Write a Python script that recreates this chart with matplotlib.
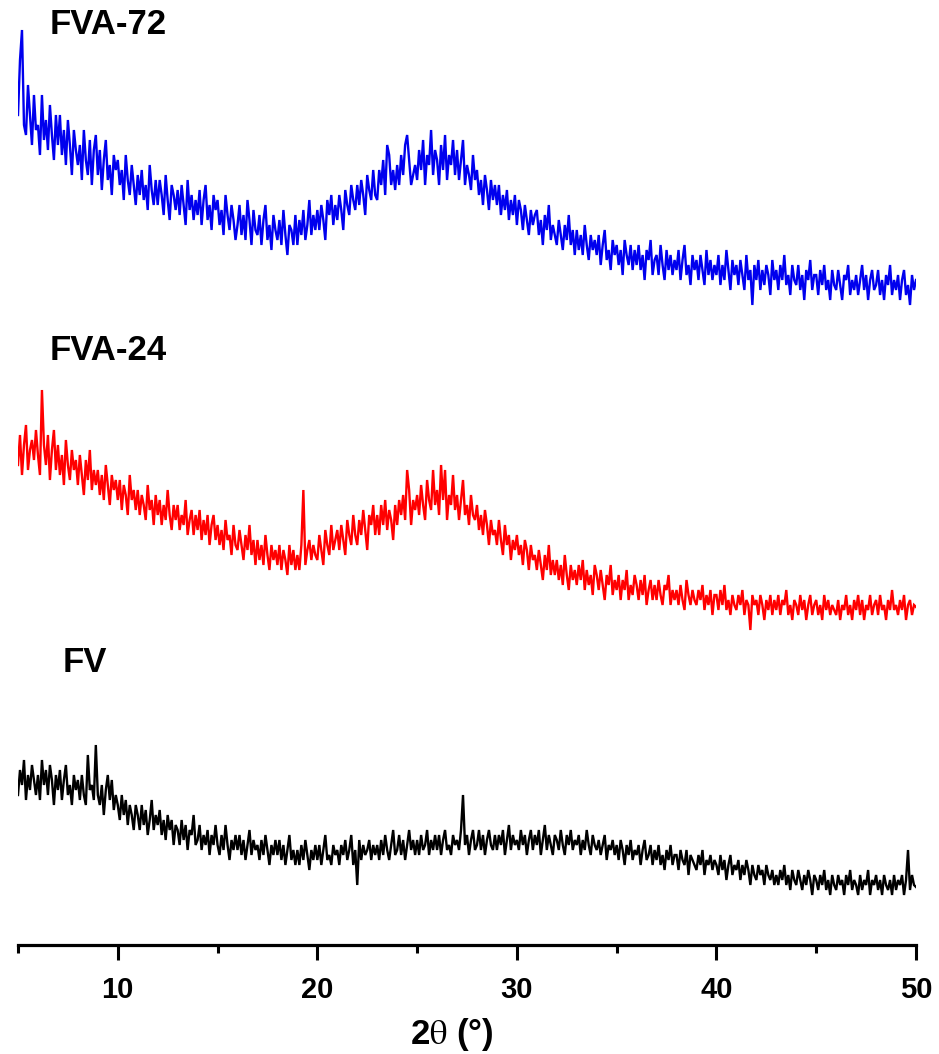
import matplotlib
matplotlib.use('Agg')
import numpy as np
import matplotlib.pyplot as plt

plt.rcParams['font.family'] = ['Liberation Sans', 'DejaVu Sans']
plt.rcParams['mathtext.fontset'] = 'stix'

# 2-theta scan, 5-50 deg in 0.1 deg steps
two_theta = np.round(np.arange(5.0, 50.05, 0.1), 1)

# stacked intensities (a.u.), one row per degree
fva72 = [
    830, 885, 915, 820, 810, 860, 830, 800, 850, 815,
    820, 790, 850, 805, 825, 795, 840, 810, 785, 830,
    800, 830, 790, 815, 780, 825, 800, 770, 815, 795,
    780, 800, 765, 815, 785, 770, 805, 760, 795, 810,
    770, 795, 755, 785, 805, 765, 780, 750, 790, 775,
    785, 760, 775, 745, 790, 765, 750, 780, 760, 740,
    770, 750, 775, 745, 760, 735, 780, 755, 740, 765,
    740, 765, 750, 730, 770, 745, 725, 760, 750, 735,
    755, 730, 760, 740, 720, 765, 735, 750, 725, 745,
    730, 755, 720, 745, 760, 725, 740, 715, 750, 735,
    745, 720, 735, 710, 750, 730, 715, 740, 725, 705,
    720, 740, 710, 730, 705, 745, 725, 700, 735, 715,
    710, 730, 700, 725, 740, 705, 720, 695, 730, 715,
    705, 725, 700, 735, 710, 690, 720, 715, 700, 730,
    700, 725, 710, 735, 705, 720, 745, 710, 730, 715,
    735, 715, 740, 725, 705, 745, 730, 750, 720, 740,
    725, 750, 735, 715, 755, 740, 730, 760, 745, 735,
    760, 740, 765, 750, 730, 770, 755, 745, 775, 750,
    745, 775, 760, 785, 750, 800, 790, 760, 775, 755,
    780, 760, 790, 770, 800, 810, 785, 760, 770, 780,
    765, 795, 775, 805, 760, 790, 780, 815, 770, 795,
    785, 760, 800, 775, 810, 765, 790, 780, 805, 770,
    795, 765, 785, 805, 760, 780, 770, 755, 790, 765,
    775, 750, 765, 740, 770, 755, 735, 765, 745, 760,
    740, 760, 730, 750, 735, 755, 725, 745, 730, 750,
    720, 745, 735, 715, 740, 725, 710, 735, 720, 730,
    735, 710, 725, 700, 730, 715, 740, 705, 720, 710,
    700, 725, 710, 695, 720, 705, 730, 700, 715, 690,
    715, 695, 710, 690, 720, 700, 685, 710, 695, 705,
    690, 710, 680, 700, 715, 685, 695, 675, 705, 690,
    700, 680, 695, 670, 705, 690, 680, 700, 675, 695,
    680, 700, 675, 690, 665, 695, 685, 705, 670, 685,
    690, 670, 700, 680, 665, 695, 675, 690, 670, 685,
    675, 695, 665, 685, 700, 670, 680, 660, 690, 675,
    685, 665, 690, 675, 660, 695, 670, 685, 665, 680,
    670, 690, 660, 680, 665, 695, 675, 655, 685, 670,
    680, 660, 685, 670, 655, 690, 665, 675, 640, 680,
    665, 685, 655, 675, 660, 680, 670, 650, 685, 665,
    675, 655, 680, 665, 690, 660, 670, 650, 680, 665,
    660, 680, 655, 670, 645, 675, 665, 685, 655, 670,
    670, 650, 675, 660, 680, 655, 665, 645, 675, 660,
    655, 675, 660, 645, 670, 665, 680, 650, 665, 655,
    670, 650, 665, 680, 655, 670, 645, 665, 675, 655,
    660, 675, 650, 665, 645, 670, 660, 680, 650, 665,
    655, 670, 645, 665, 675, 650, 660, 640, 670, 655,
    665,
]

fva24 = [
    480, 510, 470, 500, 520, 475, 495, 505, 485, 515,
    490, 470, 555, 500, 480, 510, 465, 495, 515, 475,
    500, 470, 490, 460, 505, 480, 465, 495, 475, 485,
    460, 490, 470, 450, 485, 465, 495, 455, 475, 460,
    475, 450, 470, 445, 480, 460, 440, 470, 455, 465,
    445, 465, 435, 460, 450, 430, 470, 445, 455, 435,
    455, 430, 450, 440, 425, 460, 435, 445, 420, 450,
    430, 445, 420, 440, 425, 455, 430, 415, 440, 425,
    440, 415, 430, 420, 445, 410, 425, 435, 410, 430,
    415, 435, 405, 425, 410, 430, 400, 420, 430, 405,
    420, 400, 415, 395, 425, 405, 410, 390, 420, 400,
    395, 415, 400, 385, 410, 395, 420, 390, 405, 380,
    405, 385, 400, 380, 410, 390, 375, 400, 385, 395,
    380, 400, 375, 395, 385, 370, 400, 380, 395, 375,
    390, 375, 400, 455, 380, 395, 405, 385, 400, 390,
    385, 410, 395, 380, 415, 400, 390, 420, 395, 405,
    415, 395, 420, 405, 390, 425, 410, 400, 430, 410,
    400, 425, 410, 435, 415, 395, 430, 420, 440, 410,
    430, 410, 440, 420, 445, 415, 435, 425, 405, 440,
    420, 445, 430, 450, 425, 475, 455, 420, 445, 435,
    450, 430, 460, 440, 425, 465, 445, 435, 475, 440,
    455, 430, 480, 445, 475, 425, 450, 440, 470, 435,
    450, 425, 445, 465, 430, 440, 420, 450, 430, 425,
    440, 415, 430, 410, 435, 420, 400, 425, 410, 415,
    400, 425, 405, 390, 420, 400, 410, 385, 405, 395,
    410, 390, 400, 380, 405, 395, 375, 400, 385, 390,
    375, 395, 380, 365, 390, 375, 400, 370, 385, 370,
    385, 365, 380, 360, 390, 370, 355, 380, 365, 375,
    360, 380, 365, 385, 355, 375, 360, 370, 350, 380,
    370, 355, 375, 360, 345, 370, 360, 380, 350, 365,
    355, 370, 345, 365, 355, 375, 345, 360, 350, 370,
    360, 345, 365, 350, 370, 340, 355, 365, 345, 360,
    345, 365, 350, 340, 360, 355, 370, 340, 355, 345,
    355, 340, 360, 345, 335, 365, 350, 340, 355, 345,
    340, 355, 345, 360, 335, 350, 340, 355, 330, 350,
    350, 335, 355, 340, 360, 335, 345, 330, 350, 340,
    335, 350, 340, 355, 330, 345, 340, 315, 350, 340,
    345, 330, 350, 340, 325, 345, 335, 350, 330, 345,
    335, 350, 330, 345, 340, 355, 330, 340, 325, 345,
    340, 330, 350, 335, 345, 325, 340, 350, 330, 340,
    345, 330, 340, 325, 350, 335, 345, 330, 340, 335,
    330, 345, 325, 340, 335, 350, 330, 340, 325, 345,
    335, 350, 330, 345, 325, 340, 335, 350, 330, 340,
    345, 330, 350, 335, 340, 325, 345, 335, 355, 335,
    340, 330, 345, 335, 350, 325, 340, 345, 330, 340,
    338,
]

fv = [
    150, 175, 160, 185, 145, 170, 155, 180, 165, 150,
    170, 145, 185, 160, 175, 150, 180, 165, 140, 170,
    155, 175, 145, 165, 180, 150, 160, 140, 170, 155,
    165, 145, 170, 150, 140, 190, 155, 160, 145, 200,
    150, 140, 160, 130, 155, 170, 145, 165, 135, 150,
    140, 125, 150, 130, 145, 120, 140, 130, 115, 140,
    130, 115, 140, 120, 135, 110, 125, 145, 115, 130,
    120, 135, 110, 125, 105, 130, 115, 125, 100, 120,
    115, 100, 125, 105, 120, 95, 115, 110, 130, 100,
    105, 120, 95, 110, 100, 115, 90, 110, 100, 120,
    100, 90, 110, 95, 120, 100, 85, 105, 95, 110,
    95, 110, 90, 105, 85, 100, 115, 90, 105, 95,
    100, 85, 105, 90, 110, 95, 80, 100, 90, 105,
    90, 105, 85, 100, 80, 95, 110, 85, 95, 80,
    95, 80, 100, 85, 105, 90, 75, 95, 85, 100,
    85, 100, 80, 95, 110, 85, 90, 80, 100, 90,
    95, 80, 100, 90, 105, 85, 95, 110, 80, 95,
    60, 105, 85, 100, 90, 95, 105, 85, 100, 90,
    100, 85, 105, 90, 110, 95, 85, 100, 115, 90,
    95, 110, 90, 105, 85, 100, 115, 95, 105, 90,
    105, 90, 110, 95, 100, 115, 90, 105, 95, 110,
    95, 110, 90, 105, 115, 95, 100, 90, 110, 100,
    105, 95, 115, 150, 100, 110, 90, 105, 115, 95,
    100, 115, 95, 110, 90, 105, 115, 100, 95, 110,
    95, 110, 100, 115, 90, 105, 120, 95, 110, 100,
    105, 95, 115, 100, 110, 90, 105, 115, 95, 110,
    100, 115, 90, 105, 120, 95, 110, 100, 90, 110,
    105, 95, 115, 100, 90, 110, 100, 115, 95, 105,
    100, 110, 90, 105, 95, 115, 100, 90, 110, 100,
    95, 105, 90, 100, 110, 85, 100, 95, 105, 90,
    100, 85, 105, 95, 80, 100, 90, 105, 85, 95,
    90, 100, 80, 95, 105, 85, 90, 100, 80, 95,
    85, 100, 80, 90, 75, 95, 85, 100, 80, 90,
    90, 75, 95, 85, 80, 95, 70, 90, 85, 80,
    75, 90, 80, 95, 70, 85, 80, 90, 75, 85,
    80, 70, 90, 75, 85, 65, 80, 90, 70, 80,
    75, 85, 65, 80, 70, 85, 75, 60, 80, 70,
    65, 80, 70, 75, 60, 80, 70, 65, 75, 60,
    70, 60, 75, 65, 80, 60, 70, 55, 75, 65,
    60, 75, 65, 55, 70, 60, 75, 65, 50, 70,
    65, 55, 70, 60, 75, 55, 65, 50, 70, 60,
    55, 70, 60, 65, 50, 70, 60, 75, 55, 65,
    60, 50, 70, 55, 65, 60, 75, 50, 65, 60,
    70, 55, 65, 50, 70, 60, 55, 65, 50, 70,
    55, 65, 60, 70, 50, 65, 95, 55, 70, 60,
    58,
]

sample_names = ['FVA-72', 'FVA-24', 'FV']
sample_colors = ['#0000ee', '#ff0000', '#000000']
label_x = [6.6, 6.6, 7.25]
label_y = [920, 594, 283]

fig = plt.figure(figsize=(9.39, 10.54), dpi=100)
ax = fig.add_axes([18 / 939, 109 / 1054, 898 / 939, 945 / 1054])

for ys, c in zip([fva72, fva24, fv], sample_colors):
    ax.plot(two_theta, ys, color=c, lw=1.7, solid_joinstyle='miter')

for name, lx, ly in zip(sample_names, label_x, label_y):
    ax.text(lx, ly, name, fontsize=25, fontweight='bold', ha='left', va='center')

ax.set_xlim(5, 50)
ax.set_ylim(0, 945)
for side in ['left', 'right', 'top']:
    ax.spines[side].set_visible(False)
ax.spines['bottom'].set_linewidth(2.3)
ax.set_yticks([])
ax.set_xticks([10, 20, 30, 40, 50])
ax.set_xticks([5, 15, 25, 35, 45], minor=True)
ax.tick_params(axis='x', which='major', direction='out', length=11, width=2.2,
               labelsize=21, pad=11)
ax.tick_params(axis='x', which='minor', direction='out', length=6, width=2.2)
for lbl in ax.get_xticklabels():
    lbl.set_fontweight('bold')

ax.set_xlabel(r'2$\mathrm{\theta}$ (°)', fontsize=25, fontweight='bold')
ax.xaxis.set_label_coords((452 - 18) / 898, -0.075)

fig.savefig('out.png', dpi=100)
